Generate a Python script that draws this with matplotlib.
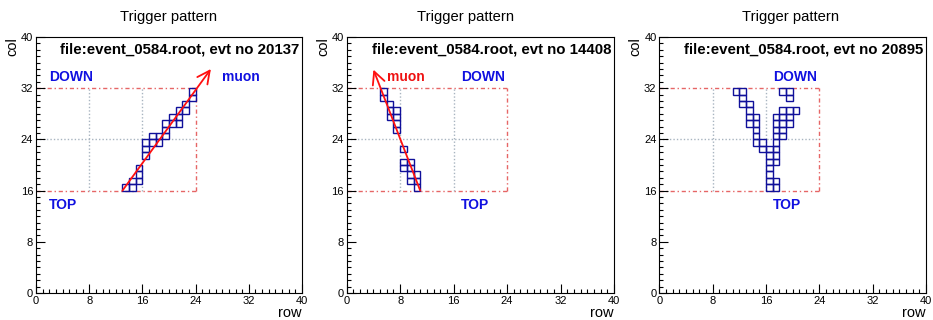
import numpy as np
import matplotlib
matplotlib.use('Agg')
import matplotlib.pyplot as plt
from matplotlib.patches import Rectangle
from matplotlib.ticker import MultipleLocator

plt.rcParams['font.family'] = ['Liberation Sans', 'DejaVu Sans']

# ---- data: fired cells (row, col) for each event ----
events = ['20137', '14408', '20895']

rows1 = [13, 14, 14, 15, 15, 15, 16, 16, 16, 17, 18, 17, 18, 19, 19, 19, 20, 21, 20, 21, 21, 22, 22, 23, 23]
cols1 = [16, 16, 17, 17, 18, 19, 21, 22, 23, 23, 23, 24, 24, 24, 25, 26, 26, 26, 27, 27, 28, 28, 29, 30, 31]

rows2 = [5, 5, 6, 6, 6, 7, 7, 7, 7, 8, 8, 9, 8, 9, 9, 10, 9, 10, 10]
cols2 = [31, 30, 29, 28, 27, 28, 27, 26, 25, 22, 20, 20, 19, 19, 18, 18, 17, 17, 16]

rows3 = [11, 12, 12, 12, 13, 13, 13, 13, 14, 14, 14, 14, 14, 15, 15,
         16, 16, 16, 16, 16, 16, 16, 17, 17, 17, 17, 17, 17, 17, 17, 17, 17,
         18, 18, 18, 18, 18, 18, 19, 19, 19, 19, 19, 20]
cols3 = [31, 31, 30, 29, 29, 28, 27, 26, 27, 26, 25, 24, 23, 23, 22,
         16, 17, 18, 19, 20, 21, 22, 16, 17, 20, 21, 22, 23, 24, 25, 26, 27,
         24, 25, 26, 27, 28, 31, 26, 27, 28, 30, 31, 28]

# muon track arrows: (x_tail, y_tail, x_head, y_head)
arrows = [(13, 16, 26.3, 35.0), (11, 16, 4.0, 34.9), None]

# labels: (text, x, y, color)
labels = [
    [('DOWN', 2.0, 33.7, '#1010e0'), ('muon', 27.9, 33.7, '#1010e0'), ('TOP', 2.0, 13.7, '#1010e0')],
    [('muon', 6.1, 33.7, '#ee1111'), ('DOWN', 17.1, 33.7, '#1010e0'), ('TOP', 17.1, 13.7, '#1010e0')],
    [('DOWN', 17.1, 33.7, '#1010e0'), ('TOP', 17.1, 13.7, '#1010e0')],
]

W, H = 933, 320
fig = plt.figure(figsize=(W / 100, H / 100), dpi=100)

lefts = [36, 346.7, 659.3]
widths = [266, 267.3, 266.7]
title_x = [169, 466, 791]
cells = [(rows1, cols1), (rows2, cols2), (rows3, cols3)]

for i in range(3):
    ax = fig.add_axes([lefts[i] / W, (H - 293) / H, widths[i] / W, 256 / H])
    ax.set_xlim(0, 40)
    ax.set_ylim(0, 40)

    # trigger region frame
    red = dict(color='#e04040', lw=1.0, ls=(0, (3, 2, 1, 2)), alpha=0.8, zorder=1)
    ax.plot([0, 24], [32, 32], **red)
    ax.plot([0, 24], [16, 16], **red)
    ax.plot([24, 24], [16, 32], **red)
    grey = dict(color='#a8b4c0', lw=1.0, ls=(0, (1, 1.5)), zorder=1)
    ax.plot([8, 8], [16, 32], **grey)
    ax.plot([16, 16], [16, 32], **grey)
    ax.plot([0, 24], [24, 24], **grey)

    r, c = cells[i]
    for x, y in zip(r, c):
        ax.add_patch(Rectangle((x, y), 1, 1, fill=False, ec='#10109a', lw=1.0, zorder=2))

    if arrows[i] is not None:
        x0, y0, x1, y1 = arrows[i]
        ax.annotate('', xy=(x1, y1), xytext=(x0, y0),
                    arrowprops=dict(arrowstyle='->,head_length=0.9,head_width=0.45',
                                    color='#ff1010', lw=1.3, shrinkA=0, shrinkB=0),
                    zorder=3)

    for txt, x, y, col in labels[i]:
        ax.text(x, y, txt, color=col, fontsize=10, fontweight='bold', va='center', ha='left')

    ax.text(39.6, 38.1, 'file:event_0584.root, evt no ' + events[i], fontsize=10.8,
            fontweight='bold', ha='right', va='center')

    ax.xaxis.set_major_locator(MultipleLocator(8))
    ax.yaxis.set_major_locator(MultipleLocator(8))
    ax.xaxis.set_minor_locator(MultipleLocator(1))
    ax.yaxis.set_minor_locator(MultipleLocator(1))
    ax.tick_params(which='both', direction='in', top=False, right=False,
                   labelsize=8, width=0.8, pad=2)
    ax.tick_params(which='major', length=6.5)
    ax.tick_params(which='minor', length=3.2)
    for s in ax.spines.values():
        s.set_linewidth(0.8)

    ax.set_xlabel('row', fontsize=10.5, loc='right', labelpad=0)
    ax.set_ylabel('col', fontsize=10.5, loc='top', labelpad=1)

    fig.text(title_x[i] / W, 1 - 17 / H, 'Trigger pattern', fontsize=10.6,
             ha='center', va='center')

fig.savefig('out.png', dpi=100)
